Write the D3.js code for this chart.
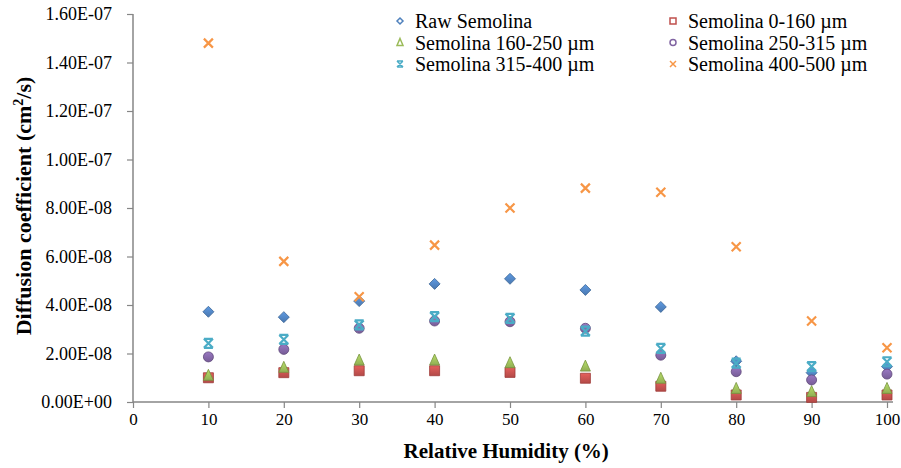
<!DOCTYPE html>
<html>
<head>
<meta charset="utf-8">
<script src="https://cdn.jsdelivr.net/npm/d3@7"></script>
<style>
  body { margin: 0; background: #fff; }
  svg text { font-family: "Liberation Serif", "Times New Roman", serif; fill: #000; }
</style>
</head>
<body>
<div id="chart"></div>
<script>
// data
var humidity = [10, 20, 30, 40, 50, 60, 70, 80, 90, 100];
var seriesNames = ["Raw Semolina", "Semolina 0-160 \u00b5m", "Semolina 160-250 \u00b5m",
  "Semolina 250-315 \u00b5m", "Semolina 315-400 \u00b5m", "Semolina 400-500 \u00b5m"];
var rawSemolina = [3.72e-8, 3.50e-8, 4.16e-8, 4.87e-8, 5.08e-8, 4.62e-8, 3.92e-8, 1.68e-8, 1.21e-8, 1.46e-8];
var sem0_160 = [1.00e-8, 1.21e-8, 1.29e-8, 1.29e-8, 1.22e-8, 0.98e-8, 0.65e-8, 0.29e-8, 0.19e-8, 0.29e-8];
var sem160_250 = [1.10e-8, 1.43e-8, 1.73e-8, 1.73e-8, 1.62e-8, 1.48e-8, 0.98e-8, 0.56e-8, 0.43e-8, 0.56e-8];
var sem250_315 = [1.86e-8, 2.17e-8, 3.04e-8, 3.34e-8, 3.31e-8, 3.04e-8, 1.93e-8, 1.25e-8, 0.91e-8, 1.15e-8];
var sem315_400 = [2.42e-8, 2.58e-8, 3.18e-8, 3.52e-8, 3.45e-8, 2.92e-8, 2.21e-8, 1.60e-8, 1.46e-8, 1.66e-8];
var sem400_500 = [1.48e-7, 5.80e-8, 4.34e-8, 6.47e-8, 8.00e-8, 8.82e-8, 8.65e-8, 6.40e-8, 3.34e-8, 2.24e-8];
var yTicks = [0, 2e-8, 4e-8, 6e-8, 8e-8, 1e-7, 1.2e-7, 1.4e-7, 1.6e-7];
var xTicks = [0, 10, 20, 30, 40, 50, 60, 70, 80, 90, 100];

var allSeries = [rawSemolina, sem0_160, sem160_250, sem250_315, sem315_400, sem400_500];
var colors = ["#4F81BD", "#C0504D", "#9BBB59", "#8064A2", "#4BACC6", "#F79646"];
var strokes = ["#3A6596", "#9E3A37", "#76923C", "#5F497A", "#31859C", "#E46C0A"];
var shapes = ["diamond", "square", "triangle", "circle", "star", "x"];

var serif = "'Liberation Serif', 'Times New Roman', serif";

var svgWidth = 901;
var svgHeight = 468;
var margin = { top: 14, right: 8, bottom: 66, left: 133 };
var width = svgWidth - margin.left - margin.right;
var height = svgHeight - margin.top - margin.bottom;

var svg = d3.select("#chart")
  .append("svg")
  .attr("width", svgWidth)
  .attr("height", svgHeight)
  .attr("font-family", serif);

// gradient fills, like the office-style markers
var defs = svg.append("defs");
colors.forEach(function(c, i) {
  var g = defs.append("linearGradient")
    .attr("id", "grad" + i)
    .attr("x1", 0).attr("y1", 0).attr("x2", 0).attr("y2", 1);
  g.append("stop").attr("offset", "0%").attr("stop-color", d3.color(c).brighter(0.5));
  g.append("stop").attr("offset", "100%").attr("stop-color", d3.color(c).darker(0.2));
});

var chartGroup = svg.append("g")
  .attr("transform", `translate(${margin.left}, ${margin.top})`);

var xScale = d3.scaleLinear().domain([0, 100]).range([0, 754]);
var yScale = d3.scaleLinear().domain([0, 1.6e-7]).range([height, 0]);

// axes
var bottomAxis = d3.axisBottom(xScale).tickValues(xTicks).tickSize(6).tickPadding(5);
var leftAxis = d3.axisLeft(yScale).tickValues(yTicks).tickSize(6).tickPadding(15)
  .tickFormat(function(d) {
    if (d === 0) return "0.00E+00";
    var e = Math.floor(Math.log10(d) + 1e-9);
    var m = d / Math.pow(10, e);
    return m.toFixed(2) + "E-" + String(-e).padStart(2, "0");
  });

var xAxisG = chartGroup.append("g")
  .attr("transform", `translate(0, ${height})`)
  .call(bottomAxis);
var yAxisG = chartGroup.append("g")
  .call(leftAxis);

[xAxisG, yAxisG].forEach(function(a) {
  a.attr("font-family", serif);
  a.select(".domain").attr("stroke", "#868686").attr("stroke-width", 1.5);
  a.selectAll(".tick line").attr("stroke", "#868686").attr("stroke-width", 1.2);
  a.selectAll("text").attr("font-family", serif).attr("font-size", 18).attr("fill", "#000");
});
xAxisG.selectAll("text").attr("font-size", 17);
xAxisG.select(".domain").attr("d", `M0,0H${width}`);
yAxisG.select(".domain").attr("d", `M0,${height}V0`);

// marker shapes
function markerPath(shape, s) {
  var h = s / 2;
  if (shape === "diamond") return `M0,${-h}L${h},0L0,${h}L${-h},0Z`;
  if (shape === "square") return `M${-h},${-h}H${h}V${h}H${-h}Z`;
  if (shape === "triangle") return `M0,${-h - 1}L${h},${h}L${-h},${h}Z`;
  if (shape === "circle") return d3.symbol(d3.symbolCircle, Math.PI * h * h)();
  if (shape === "star") return `M${-h},${-h}L${h},${h}M${h},${-h}L${-h},${h}M${-h},${-h}H${h}M${-h},${h}H${h}`;
  return `M${-h},${-h}L${h},${h}M${h},${-h}L${-h},${h}`;
}

// points
allSeries.forEach(function(values, i) {
  var shape = shapes[i];
  var lineOnly = (shape === "star" || shape === "x");
  var size = shape === "diamond" ? 11 : (lineOnly ? 9 : 10);
  chartGroup.append("g")
    .selectAll("path")
    .data(values)
    .enter()
    .append("path")
    .attr("transform", (d, j) => `translate(${xScale(humidity[j])}, ${yScale(d)})`)
    .attr("d", markerPath(shape, size))
    .attr("fill", lineOnly ? "none" : `url(#grad${i})`)
    .attr("stroke", lineOnly ? colors[i] : strokes[i])
    .attr("stroke-width", lineOnly ? 2.2 : 0.8);
});

// legend
var legend = svg.append("g");
var legendX = [400, 673];
var legendY = [21, 42.5, 64];
seriesNames.forEach(function(name, i) {
  var lx = legendX[i % 2];
  var ly = legendY[Math.floor(i / 2)];
  legend.append("path")
    .attr("transform", `translate(${lx}, ${ly})`)
    .attr("d", markerPath(shapes[i], 6))
    .attr("fill", "none")
    .attr("stroke", colors[i])
    .attr("stroke-width", 1.5);
  legend.append("text")
    .attr("x", lx + 15)
    .attr("y", ly + 7)
    .attr("font-family", serif)
    .attr("font-size", 20)
    .attr("textLength", null)
    .text(name);
});

// axis titles
svg.append("text")
  .attr("x", margin.left + xScale(49.5))
  .attr("y", 458)
  .attr("text-anchor", "middle")
  .attr("font-family", serif)
  .attr("font-size", 21)
  .attr("font-weight", "bold")
  .text("Relative Humidity (%)");

var yTitle = svg.append("text")
  .attr("transform", `translate(31, ${margin.top + height / 2 - 2}) rotate(-90)`)
  .attr("text-anchor", "middle")
  .attr("font-family", serif)
  .attr("font-size", 22)
  .attr("font-weight", "bold");
yTitle.append("tspan").text("Diffusion coefficient (cm");
yTitle.append("tspan").attr("dy", -8).attr("font-size", 14).text("2");
yTitle.append("tspan").attr("dy", 8).text("/s)");
</script>
</body>
</html>
